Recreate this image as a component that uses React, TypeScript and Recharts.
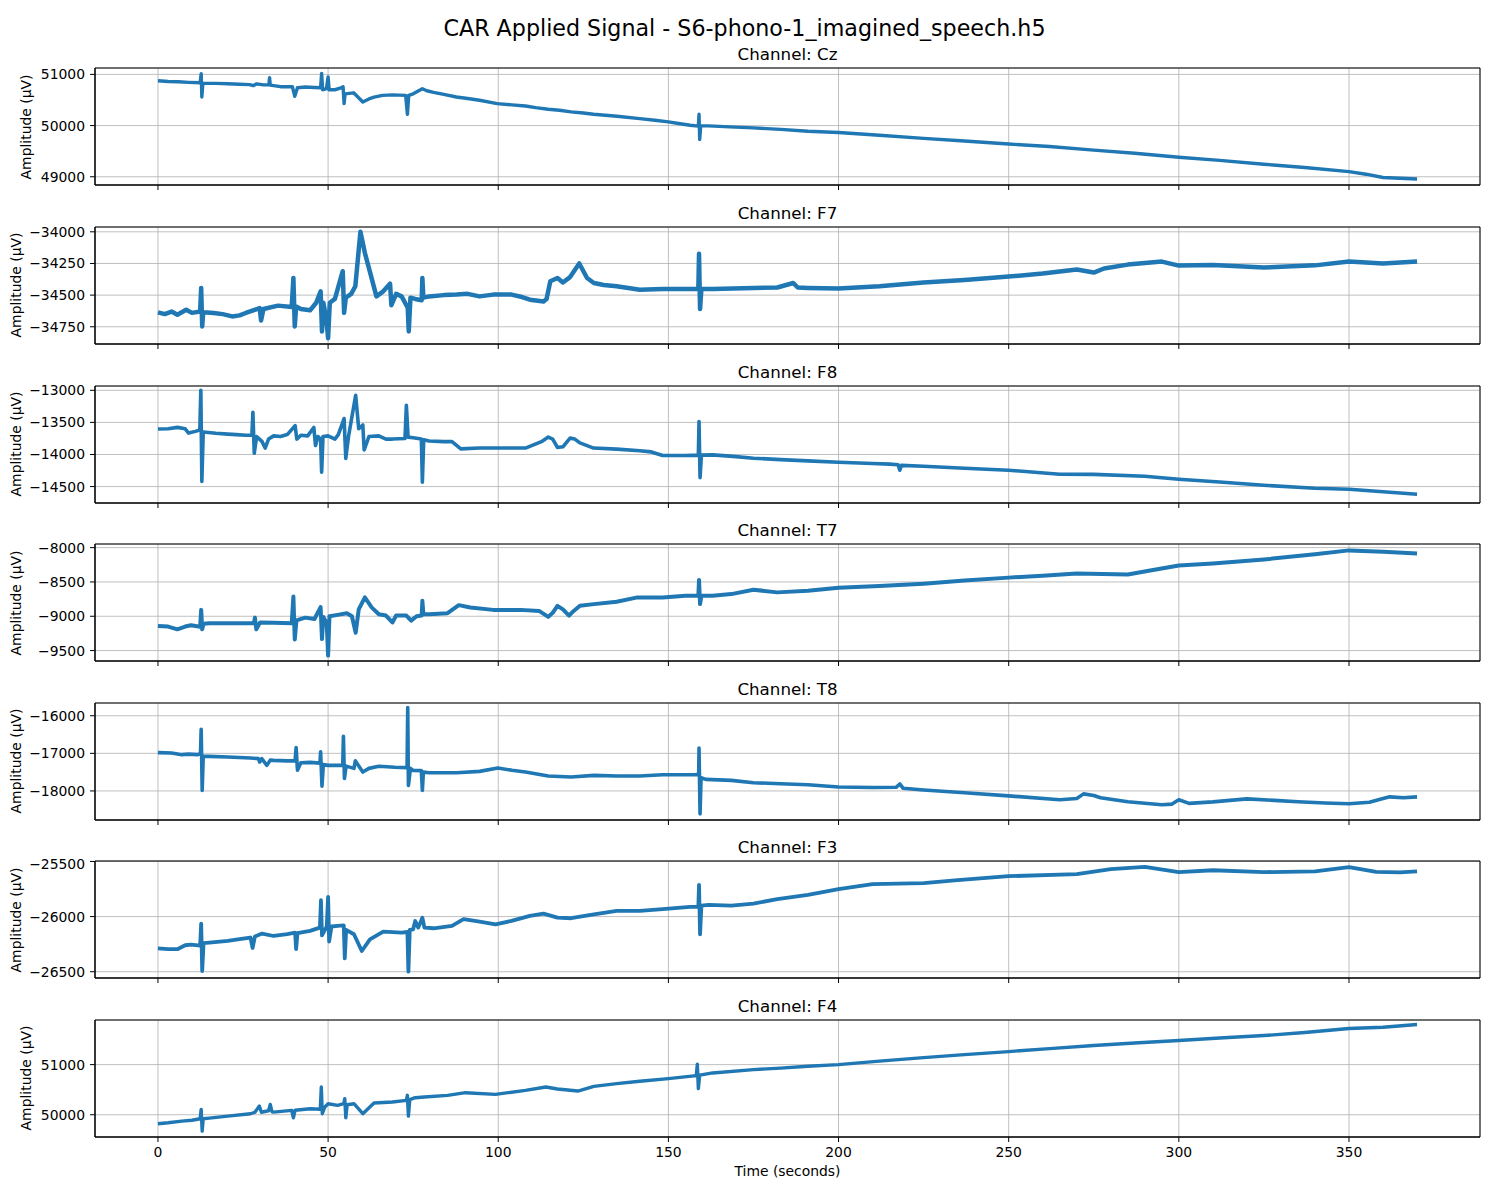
import React from 'react';
import { LineChart, Line, XAxis, YAxis, CartesianGrid, ReferenceArea } from 'recharts';

// time (s) and amplitude (µV) samples, one pair of arrays per channel
const czTime = [0, 3, 6, 9, 12.4, 12.7, 12.9, 13.2, 17, 20.5, 24, 27, 28, 29, 31, 32.6, 32.8, 33, 36, 39.5, 40.2, 41, 43.3, 46, 47.8, 48.1, 48.4, 49.5, 50, 50.3, 52, 54, 54.4, 54.7, 55, 57.5, 60.2, 62, 63.5, 66, 69, 72.8, 73.3, 73.7, 75, 77.7, 79, 81, 84, 87.7, 91, 94.5, 99.7, 104, 108, 111, 114.7, 118, 121.4, 125, 128, 134.9, 141.6, 146, 150, 153, 156.4, 158.8, 159, 159.2, 159.5, 161.8, 168, 175, 183, 191, 200, 212, 225, 237, 250, 262, 275, 287, 300, 312, 325, 337, 350, 355, 360, 365, 370];
const czValues = [50877, 50862, 50855, 50845, 50838, 51013, 50559, 50830, 50825, 50818, 50808, 50800, 50780, 50815, 50795, 50800, 50935, 50790, 50760, 50760, 50572, 50740, 50753, 50745, 50740, 51020, 50700, 50720, 50950, 50700, 50700, 50740, 50760, 50429, 50620, 50640, 50461, 50520, 50555, 50590, 50600, 50590, 50221, 50590, 50620, 50720, 50680, 50650, 50610, 50559, 50530, 50494, 50429, 50405, 50383, 50350, 50319, 50300, 50267, 50245, 50221, 50182, 50137, 50105, 50072, 50040, 50007, 49990, 50221, 49728, 50000, 49994, 49975, 49955, 49925, 49890, 49865, 49810, 49750, 49700, 49640, 49590, 49520, 49460, 49380, 49320, 49245, 49180, 49100, 49050, 48985, 48970, 48955];

const f7Time = [0, 2, 4, 5.7, 8.3, 10, 12.4, 12.7, 13, 13.3, 16.4, 19, 21.8, 24, 25.8, 28, 29.9, 30.3, 31, 35.3, 39.3, 39.8, 40.2, 40.6, 42, 44.7, 46.5, 47.8, 48.2, 48.6, 49.5, 50, 50.5, 52, 54.3, 54.7, 55.2, 56.8, 58, 59.5, 60.8, 62.9, 64.2, 66.2, 68.2, 68.6, 70, 71.6, 73.4, 73.7, 74.2, 75.6, 77.5, 77.7, 78, 79.7, 84, 87.8, 91, 94.5, 98.5, 103.9, 107, 109.3, 113.3, 114.2, 115.3, 117.4, 119, 121, 123.8, 126.1, 128.1, 131, 134.8, 141.6, 148.3, 155, 158.8, 159, 159.3, 159.7, 163, 169, 175, 182, 186.7, 188, 191, 200, 212, 225, 237, 250, 260, 270, 275, 278, 285, 295, 300, 310, 325, 340, 350, 360, 370];
const f7Values = [-34636, -34650, -34630, -34655, -34615, -34640, -34630, -34443, -34747, -34635, -34641, -34650, -34668, -34660, -34641, -34620, -34602, -34700, -34610, -34583, -34593, -34364, -34747, -34590, -34610, -34620, -34560, -34470, -34787, -34560, -34690, -34840, -34560, -34530, -34311, -34640, -34520, -34490, -34430, -34000, -34166, -34378, -34510, -34470, -34410, -34580, -34490, -34510, -34600, -34787, -34520, -34530, -34540, -34364, -34520, -34510, -34500, -34496, -34490, -34510, -34496, -34496, -34515, -34536, -34550, -34530, -34391, -34365, -34400, -34360, -34250, -34365, -34404, -34420, -34430, -34457, -34451, -34451, -34450, -34174, -34610, -34450, -34451, -34448, -34443, -34440, -34404, -34440, -34443, -34448, -34430, -34400, -34380, -34353, -34330, -34298, -34322, -34290, -34259, -34235, -34267, -34262, -34282, -34265, -34235, -34250, -34235];

const f8Time = [0, 3, 5.7, 8, 9, 11, 12.3, 12.6, 12.9, 13.3, 17, 20.5, 23, 25.8, 27.6, 27.9, 28.3, 29, 30.6, 31.5, 32.5, 34, 36, 38, 40.3, 40.8, 42, 44, 45.8, 46.3, 47, 47.8, 48.1, 48.5, 50, 52, 53, 54.7, 55.2, 56, 58.1, 59, 60.2, 60.6, 62, 64.9, 67, 68.9, 72.6, 73, 73.5, 75, 77.4, 77.7, 78.1, 79.7, 84, 86.4, 89, 94.5, 101.2, 108, 112.7, 114.7, 116, 117.4, 119, 121.1, 122.5, 124, 128, 134.8, 141.6, 145, 148.3, 155, 158.8, 159, 159.3, 159.7, 163, 169, 175, 183, 191, 200, 210, 215, 217.5, 218, 218.5, 225, 237, 250, 265, 275, 290, 300, 312, 325, 340, 350, 360, 370];
const f8Values = [-13604, -13598, -13578, -13600, -13667, -13640, -13620, -13000, -14422, -13651, -13670, -13683, -13690, -13700, -13700, -13344, -13980, -13720, -13800, -13900, -13760, -13710, -13720, -13690, -13550, -13760, -13700, -13710, -13580, -13860, -13720, -13760, -14276, -13720, -13710, -13760, -13690, -13440, -14060, -13720, -13078, -13600, -13540, -13930, -13720, -13710, -13760, -13760, -13750, -13234, -13730, -13740, -13760, -14433, -13770, -13790, -13800, -13800, -13912, -13900, -13900, -13900, -13800, -13729, -13760, -13890, -13880, -13745, -13760, -13820, -13900, -13917, -13943, -13960, -14016, -14016, -14010, -13485, -14360, -14010, -14006, -14030, -14058, -14080, -14099, -14120, -14140, -14150, -14160, -14245, -14170, -14183, -14215, -14245, -14308, -14310, -14339, -14386, -14430, -14480, -14527, -14542, -14580, -14620];

const t7Time = [0, 3, 5.7, 8, 9.7, 12.4, 12.7, 13, 13.4, 15.1, 20.5, 25.8, 28.2, 28.5, 28.9, 30, 34, 39.3, 39.8, 40.2, 40.7, 43.3, 46, 47.8, 48.2, 48.6, 49.6, 50, 50.4, 52.8, 55.5, 57, 58.1, 59, 60.8, 62.8, 64.9, 67, 68.9, 70, 73, 74.4, 76, 77.5, 77.7, 78, 79.7, 85.1, 88.4, 91.8, 98.5, 106.6, 112, 114.7, 116, 117.4, 119, 120.8, 122, 124, 128.1, 134.8, 140.9, 148.3, 155, 158.8, 159, 159.3, 159.7, 163, 168.5, 175, 182, 191, 200, 212, 225, 237, 250, 260, 270, 285, 292, 300, 310, 325, 340, 350, 360, 370];
const t7Values = [-9142, -9150, -9191, -9150, -9132, -9152, -8907, -9191, -9110, -9103, -9103, -9103, -9100, -9020, -9191, -9090, -9093, -9103, -8711, -9338, -9060, -9020, -9040, -8867, -9333, -9010, -9100, -9573, -9000, -8980, -8955, -9000, -9240, -8900, -8725, -8871, -8970, -8990, -9090, -8990, -8990, -9064, -9000, -8990, -8774, -8970, -8970, -8955, -8838, -8873, -8907, -8907, -8922, -9009, -8950, -8848, -8900, -8990, -8930, -8848, -8823, -8789, -8725, -8725, -8701, -8700, -8470, -8823, -8700, -8701, -8677, -8613, -8652, -8627, -8583, -8560, -8525, -8480, -8437, -8410, -8378, -8392, -8330, -8260, -8230, -8172, -8098, -8040, -8060, -8084];

const t8Time = [0, 4, 7, 9, 11.7, 12.5, 12.7, 13, 13.3, 15.1, 20.5, 27.2, 29.5, 29.9, 30.5, 32, 33, 34, 38, 40.3, 40.6, 41, 42, 44.7, 47.6, 47.8, 48.2, 48.6, 50, 52, 54.3, 54.5, 54.8, 55.3, 57.6, 58, 60.2, 62, 64.9, 69.6, 73.2, 73.4, 73.6, 74.2, 75, 77.4, 77.7, 78, 79.7, 87.8, 94.5, 99.9, 104, 108, 114.7, 121.4, 128.1, 134.8, 141.6, 148.3, 157.7, 158.9, 159, 159.3, 159.6, 161, 168.5, 175, 183, 191, 200, 210, 217, 218, 219, 225, 237, 250, 265, 270, 272, 275, 277, 285, 295, 298, 300, 303, 310, 320, 328, 335, 343, 350, 356, 360, 362, 366, 370];
const t8Values = [-16982, -16990, -17035, -17020, -17035, -17000, -16360, -17987, -17080, -17080, -17098, -17125, -17140, -17230, -17140, -17320, -17180, -17187, -17200, -17200, -16849, -17450, -17250, -17240, -17260, -16960, -17871, -17300, -17320, -17320, -17320, -16547, -17670, -17340, -17400, -17200, -17498, -17400, -17342, -17368, -17380, -15782, -17853, -17400, -17456, -17460, -17987, -17500, -17518, -17516, -17480, -17391, -17450, -17498, -17604, -17631, -17587, -17604, -17604, -17569, -17569, -17560, -16858, -18609, -17650, -17693, -17720, -17782, -17810, -17836, -17894, -17910, -17900, -17815, -17930, -17973, -18050, -18131, -18236, -18200, -18078, -18120, -18180, -18289, -18368, -18350, -18236, -18330, -18290, -18210, -18250, -18289, -18320, -18341, -18300, -18200, -18157, -18180, -18157];

const f3Time = [0, 3, 5.7, 8, 9.7, 12.4, 12.7, 13, 13.4, 15.1, 20.5, 25, 27.2, 27.8, 28.5, 30.6, 34, 38, 40.3, 40.6, 41, 44.7, 47.6, 47.9, 48.2, 49.6, 50, 50.3, 51, 52.8, 54.6, 54.9, 55.3, 57.6, 59.9, 62.3, 66.2, 71.6, 73.3, 73.6, 74, 75, 75.6, 76.5, 77.7, 78.3, 81, 86.4, 89.8, 94.5, 99.2, 103.9, 109.3, 113.3, 117.4, 121.4, 128.1, 134.8, 141.6, 148.3, 156.4, 158.8, 159, 159.3, 159.7, 161.8, 168.5, 175, 182, 191, 200, 210, 225, 235, 250, 270, 280, 290, 300, 310, 325, 340, 350, 358, 365, 370];
const f3Values = [-26288, -26295, -26296, -26260, -26255, -26264, -26064, -26494, -26240, -26236, -26221, -26200, -26190, -26285, -26180, -26154, -26176, -26160, -26145, -26295, -26150, -26130, -26100, -25852, -26170, -26090, -25821, -26226, -26090, -26085, -26080, -26379, -26120, -26160, -26312, -26206, -26136, -26145, -26140, -26500, -26120, -26115, -26040, -26100, -26010, -26100, -26106, -26085, -26024, -26045, -26070, -26039, -25994, -25973, -26009, -26015, -25979, -25948, -25948, -25933, -25912, -25910, -25712, -26161, -25900, -25894, -25900, -25882, -25842, -25803, -25751, -25706, -25696, -25670, -25634, -25615, -25569, -25550, -25597, -25580, -25597, -25590, -25551, -25595, -25600, -25590];

const f4Time = [0, 3, 7, 10, 12.4, 12.7, 13, 13.3, 15.1, 20.5, 27.2, 28.5, 29.8, 30.4, 32.5, 33, 33.5, 34, 39.3, 39.8, 40.3, 44.7, 47.7, 48, 48.3, 49, 50, 52.8, 54.6, 54.9, 55.2, 55.6, 57.6, 60.2, 63.5, 68.9, 73, 73.3, 73.6, 74, 75.6, 78.3, 85.1, 90.4, 99.2, 108, 114, 117.4, 123.4, 128.1, 134.8, 141.6, 150, 158.2, 158.5, 158.8, 159.2, 163, 175, 183, 191, 200, 212, 225, 237, 250, 262, 275, 287, 300, 312, 325, 337, 350, 360, 370];
const f4Values = [49820, 49840, 49873, 49890, 49920, 50107, 49673, 49920, 49933, 49973, 50020, 50050, 50173, 50050, 50080, 50207, 50060, 50053, 50087, 49940, 50090, 50120, 50110, 50553, 50020, 50150, 50220, 50187, 50220, 50320, 49940, 50200, 50220, 50020, 50233, 50253, 50287, 50387, 49973, 50300, 50340, 50353, 50387, 50440, 50407, 50487, 50553, 50513, 50473, 50567, 50620, 50667, 50720, 50780, 51007, 50520, 50790, 50834, 50900, 50930, 50967, 51000, 51070, 51140, 51200, 51260, 51320, 51380, 51430, 51480, 51530, 51580, 51640, 51720, 51745, 51800];

const timeTicks = [0, 50, 100, 150, 200, 250, 300, 350];
const czTicks = [49000, 50000, 51000];
const f7Ticks = [-34750, -34500, -34250, -34000];
const f8Ticks = [-14500, -14000, -13500, -13000];
const t7Ticks = [-9500, -9000, -8500, -8000];
const t8Ticks = [-18000, -17000, -16000];
const f3Ticks = [-26500, -26000, -25500];
const f4Ticks = [50000, 51000];

const FONT = '"DejaVu Sans", sans-serif';
const WIDTH = 1489;
const HEIGHT = 1181;
const PLOT_LEFT = 95;
const PLOT_RIGHT = 1480;
const PLOT_TOP0 = 68.3;
const PANEL_STEP = 158.6;
const PLOT_H = 117;
const X_DOMAIN: [number, number] = [-18.5, 388.5];

const channels = [
  { name: 'Cz', time: czTime, values: czValues, ticks: czTicks, domain: [48839, 51125], width: 3.4 },
  { name: 'F7', time: f7Time, values: f7Values, ticks: f7Ticks, domain: [-34886, -33962], width: 4.5 },
  { name: 'F8', time: f8Time, values: f8Values, ticks: f8Ticks, domain: [-14756, -12933], width: 3.6 },
  { name: 'T7', time: t7Time, values: t7Values, ticks: t7Ticks, domain: [-9652, -7947], width: 4 },
  { name: 'T8', time: t8Time, values: t8Values, ticks: t8Ticks, domain: [-18773, -15661], width: 3.6 },
  { name: 'F3', time: f3Time, values: f3Values, ticks: f3Ticks, domain: [-26557, -25496], width: 3.8 },
  { name: 'F4', time: f4Time, values: f4Values, ticks: f4Ticks, domain: [49556, 51890], width: 3.4 },
];

const fmtY = (v: number) => (v < 0 ? '\u2212' + Math.abs(v) : String(v));

const Panel = ({ ch, index, last }: { ch: any; index: number; last: boolean }) => {
  const data = ch.time.map((t: number, i: number) => ({ t, v: ch.values[i] }));
  const top = PLOT_TOP0 + index * PANEL_STEP;
  const hasMinus = ch.ticks.some((t: number) => t < 0);
  return (
    <>
      <div
        style={{
          position: 'absolute',
          left: PLOT_LEFT,
          width: PLOT_RIGHT - PLOT_LEFT,
          top: top - 22,
          textAlign: 'center',
          fontSize: 16.7,
          lineHeight: 1,
          whiteSpace: 'nowrap',
        }}
      >
        Channel: {ch.name}
      </div>
      <div
        style={{
          position: 'absolute',
          left: hasMinus ? 17 : 27,
          top: top + PLOT_H / 2,
          transform: 'translate(-50%, -50%) rotate(-90deg)',
          fontSize: 13.9,
          lineHeight: 1,
          whiteSpace: 'nowrap',
        }}
      >
        Amplitude (µV)
      </div>
      <div style={{ position: 'absolute', left: 0, top: top - 5 }}>
        <LineChart
          width={WIDTH}
          height={PLOT_H + 35}
          data={data}
          margin={{ top: 5, right: WIDTH - PLOT_RIGHT, bottom: 0, left: PLOT_LEFT - 60 }}
        >
          <CartesianGrid stroke="#b0b0b0" strokeWidth={0.8} />
          <XAxis
            dataKey="t"
            type="number"
            domain={X_DOMAIN}
            ticks={timeTicks}
            allowDataOverflow
            height={30}
            tickSize={5}
            tickMargin={5}
            axisLine={{ stroke: '#000' }}
            tickLine={{ stroke: '#000' }}
            tick={{ fill: '#000', fontSize: 13.9, fontFamily: FONT }}
            tickFormatter={last ? (v: number) => String(v) : () => ''}
          />
          <YAxis
            type="number"
            domain={ch.domain}
            ticks={ch.ticks}
            allowDataOverflow
            width={60}
            tickSize={5}
            tickMargin={5}
            axisLine={{ stroke: '#000' }}
            tickLine={{ stroke: '#000' }}
            tick={{ fill: '#000', fontSize: 13.9, fontFamily: FONT }}
            tickFormatter={fmtY}
          />
          <Line
            dataKey="v"
            type="linear"
            stroke="#1f77b4"
            strokeWidth={ch.width}
            strokeLinejoin="round"
            dot={false}
            isAnimationActive={false}
          />
          <ReferenceArea
            x1={X_DOMAIN[0]}
            x2={X_DOMAIN[1]}
            y1={ch.domain[0]}
            y2={ch.domain[1]}
            fill="none"
            fillOpacity={0}
            stroke="#000"
            strokeWidth={1}
          />
        </LineChart>
      </div>
    </>
  );
};

export default function App() {
  return (
    <div
      style={{
        position: 'absolute',
        left: 0,
        top: 0,
        width: WIDTH,
        height: HEIGHT,
        background: '#fff',
        fontFamily: FONT,
        color: '#000',
      }}
    >
      <div
        style={{
          position: 'absolute',
          left: 0,
          width: WIDTH,
          top: 17,
          textAlign: 'center',
          fontSize: 22.2,
          lineHeight: 1,
        }}
      >
        CAR Applied Signal - S6-phono-1_imagined_speech.h5
      </div>
      {channels.map((ch, i) => (
        <Panel key={ch.name} ch={ch} index={i} last={i === channels.length - 1} />
      ))}
      <div
        style={{
          position: 'absolute',
          left: PLOT_LEFT,
          width: PLOT_RIGHT - PLOT_LEFT,
          top: 1165,
          textAlign: 'center',
          fontSize: 13.9,
          lineHeight: 1,
        }}
      >
        Time (seconds)
      </div>
    </div>
  );
}
